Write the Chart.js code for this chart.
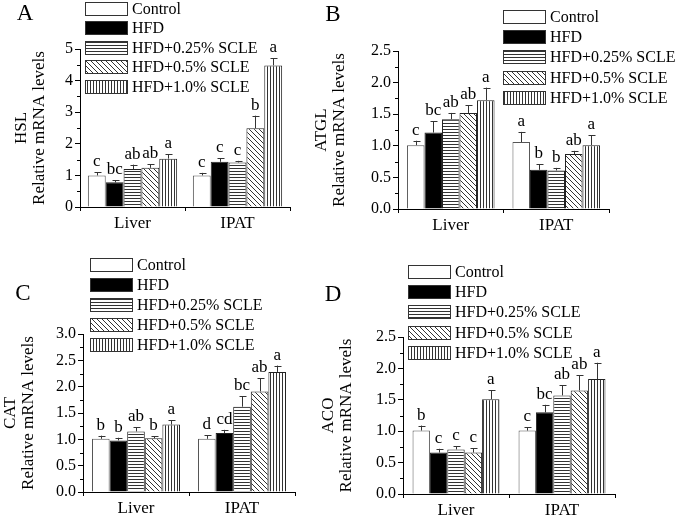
<!DOCTYPE html>
<html lang="en">
<head>
    <meta charset="UTF-8">
    <title>Relative mRNA levels</title>
    <script src="https://cdn.jsdelivr.net/npm/chart.js"></script>
    <style>
        body { margin: 0; background: #fff; }
        #wrap { position: relative; width: 685px; height: 515px; }
        .panel { position: absolute; }
    </style>
</head>
<body>
<div id="wrap">
    <div class="panel" style="left:0;top:0;"><canvas id="chartA" width="310" height="257"></canvas></div>
    <div class="panel" style="left:300px;top:0;"><canvas id="chartB" width="385" height="257"></canvas></div>
    <div class="panel" style="left:0;top:257px;"><canvas id="chartC" width="310" height="258"></canvas></div>
    <div class="panel" style="left:300px;top:257px;"><canvas id="chartD" width="385" height="258"></canvas></div>
</div>

<script>
    const groups = ['Liver', 'IPAT'];
    const seriesNames = ['Control', 'HFD', 'HFD+0.25% SCLE', 'HFD+0.5% SCLE', 'HFD+1.0% SCLE'];

    // A: HSL
    const hslLiver = [1.00, 0.78, 1.20, 1.24, 1.53];
    const hslLiverErr = [0.10, 0.06, 0.14, 0.12, 0.14];
    const hslIpat = [1.00, 1.43, 1.41, 2.49, 4.48];
    const hslIpatErr = [0.08, 0.11, 0.05, 0.40, 0.23];
    const hslLiverSig = ['c', 'bc', 'ab', 'ab', 'a'];
    const hslIpatSig = ['c', 'c', 'c', 'b', 'a'];

    // B: ATGL
    const atglLiver = [1.01, 1.21, 1.42, 1.52, 1.72];
    const atglLiverErr = [0.07, 0.18, 0.10, 0.12, 0.20];
    const atglIpat = [1.06, 0.62, 0.61, 0.87, 1.01];
    const atglIpatErr = [0.16, 0.09, 0.04, 0.05, 0.16];
    const atglLiverSig = ['c', 'bc', 'ab', 'ab', 'a'];
    const atglIpatSig = ['a', 'b', 'b', 'ab', 'a'];

    // C: CAT
    const catLiver = [1.01, 0.98, 1.15, 1.02, 1.28];
    const catLiverErr = [0.06, 0.05, 0.08, 0.04, 0.08];
    const catIpat = [1.01, 1.12, 1.62, 1.91, 2.28];
    const catIpatErr = [0.07, 0.06, 0.20, 0.25, 0.12];
    const catLiverSig = ['b', 'b', 'ab', 'b', 'a'];
    const catIpatSig = ['d', 'cd', 'bc', 'ab', 'a'];

    // D: ACO
    const acoLiver = [1.01, 0.66, 0.71, 0.66, 1.51];
    const acoLiverErr = [0.08, 0.06, 0.05, 0.07, 0.14];
    const acoIpat = [1.01, 1.30, 1.57, 1.65, 1.83];
    const acoIpatErr = [0.05, 0.12, 0.16, 0.24, 0.26];
    const acoLiverSig = ['b', 'c', 'c', 'c', 'a'];
    const acoIpatSig = ['c', 'bc', 'ab', 'ab', 'a'];

    const SERIF = "'Liberation Serif', 'Times New Roman', serif";

    // fill patterns for the five groups
    function makeTile(w, h, draw) {
        const c = document.createElement('canvas');
        c.width = w; c.height = h;
        const g = c.getContext('2d');
        g.fillStyle = '#fff';
        g.fillRect(0, 0, w, h);
        g.strokeStyle = '#333';
        g.lineWidth = 1;
        draw(g);
        return document.createElement('canvas').getContext('2d').createPattern(c, 'repeat');
    }
    const fills = [
        '#ffffff',
        '#000000',
        makeTile(3, 3, g => { g.beginPath(); g.moveTo(0, 0.5); g.lineTo(3, 0.5); g.stroke(); }),
        makeTile(5, 5, g => {
            g.beginPath();
            g.moveTo(-1, -1); g.lineTo(6, 6);
            g.moveTo(-1, 4); g.lineTo(2, 7);
            g.moveTo(4, -1); g.lineTo(7, 2);
            g.stroke();
        }),
        makeTile(3, 3, g => { g.beginPath(); g.moveTo(0.5, 0); g.lineTo(0.5, 3); g.stroke(); })
    ];

    // error bars, letters, legend, panel letter, minor ticks
    const extrasPlugin = {
        id: 'extras',
        afterDatasetsDraw(chart, args, opts) {
            const ctx = chart.ctx;
            const y = chart.scales.y;
            ctx.save();
            ctx.strokeStyle = '#333';
            ctx.lineWidth = 1;
            ctx.fillStyle = '#000';
            ctx.font = '17px ' + SERIF;
            ctx.textAlign = 'center';
            ctx.textBaseline = 'bottom';
            chart.data.datasets.forEach((ds, i) => {
                const meta = chart.getDatasetMeta(i);
                meta.data.forEach((bar, j) => {
                    const top = y.getPixelForValue(ds.data[j] + ds.errors[j]);
                    const x = Math.round(bar.x) + 0.5;
                    ctx.beginPath();
                    ctx.moveTo(x, bar.y);
                    ctx.lineTo(x, top);
                    ctx.moveTo(x - 3, Math.round(top) + 0.5);
                    ctx.lineTo(x + 4, Math.round(top) + 0.5);
                    ctx.stroke();
                    ctx.fillText(ds.sig[j], bar.x, top - 2);
                });
            });
            ctx.restore();
        },
        afterDraw(chart, args, opts) {
            const ctx = chart.ctx;
            const y = chart.scales.y;
            const area = chart.chartArea;
            ctx.save();
            // minor ticks
            ctx.strokeStyle = '#000';
            ctx.lineWidth = 1;
            const step = y.options.ticks.stepSize;
            ctx.beginPath();
            for (let v = step / 2; v < y.max; v += step) {
                const py = Math.round(y.getPixelForValue(v)) + 0.5;
                ctx.moveTo(area.left - 3, py);
                ctx.lineTo(area.left, py);
            }
            ctx.stroke();

            // panel letter
            ctx.fillStyle = '#000';
            ctx.font = '23px ' + SERIF;
            ctx.textAlign = 'center';
            ctx.textBaseline = 'middle';
            ctx.fillText(opts.letter, opts.letterX, opts.letterY);

            // legend
            ctx.font = '16px ' + SERIF;
            ctx.textAlign = 'left';
            chart.data.datasets.forEach((ds, i) => {
                const bx = opts.legendX + 0.5;
                const by = Math.round(opts.legendY + i * opts.legendPitch) + 0.5;
                ctx.fillStyle = ds.backgroundColor;
                ctx.fillRect(bx, by, 42, 13);
                ctx.strokeStyle = '#333';
                ctx.strokeRect(bx, by, 42, 13);
                ctx.fillStyle = '#000';
                ctx.fillText(ds.label, opts.legendX + 47, by + 7);
            });
            ctx.restore();
        }
    };

    function buildChart(id, p) {
        const datasets = seriesNames.map((name, i) => ({
            label: name,
            data: [p.liver[i], p.ipat[i]],
            errors: [p.liverErr[i], p.ipatErr[i]],
            sig: [p.liverSig[i], p.ipatSig[i]],
            backgroundColor: fills[i],
            borderColor: i === 0 ? '#555' : '#222',
            borderWidth: 1,
            categoryPercentage: p.catPct,
            barPercentage: 1.0
        }));

        return new Chart(document.getElementById(id), {
            type: 'bar',
            data: { labels: groups, datasets: datasets },
            plugins: [extrasPlugin],
            options: {
                responsive: false,
                animation: false,
                layout: { padding: { left: 0, right: p.padRight, top: p.padTop, bottom: 0 } },
                plugins: {
                    legend: { display: false },
                    tooltip: { enabled: false },
                    extras: {
                        letter: p.letter, letterX: p.letterX, letterY: p.letterY,
                        legendX: p.legendX, legendY: p.legendY, legendPitch: p.legendPitch
                    }
                },
                scales: {
                    x: {
                        afterFit: s => { s.height = p.xHeight; },
                        grid: { offset: true, drawOnChartArea: false, drawTicks: true, tickLength: 4, color: '#000' },
                        border: { display: true, color: '#000', width: 1 },
                        ticks: { color: '#000', font: { family: SERIF, size: 17 }, padding: 2 }
                    },
                    y: {
                        min: 0,
                        max: p.yMax,
                        afterFit: s => { s.width = p.yWidth; },
                        grid: { drawOnChartArea: false, drawTicks: true, tickLength: 5, color: '#000' },
                        border: { display: true, color: '#000', width: 1 },
                        ticks: {
                            stepSize: p.yStep,
                            color: '#000',
                            padding: 2,
                            font: { family: SERIF, size: 16 },
                            callback: v => p.yStep < 1 ? v.toFixed(1) : String(v)
                        },
                        title: {
                            display: true,
                            text: [p.gene, 'Relative mRNA levels'],
                            color: '#000',
                            font: { family: SERIF, size: 17, lineHeight: 1.05 },
                            padding: { top: p.titlePad, bottom: 0 }
                        }
                    }
                }
            }
        });
    }

    buildChart('chartA', {
        gene: 'HSL', letter: 'A', letterX: 25, letterY: 14,
        liver: hslLiver, liverErr: hslLiverErr, liverSig: hslLiverSig,
        ipat: hslIpat, ipatErr: hslIpatErr, ipatSig: hslIpatSig,
        yMax: 5, yStep: 1, catPct: 0.85,
        yWidth: 80, xHeight: 50, padTop: 49, padRight: 20, titlePad: 13,
        legendX: 85, legendY: 2, legendPitch: 19.4
    });

    buildChart('chartB', {
        gene: 'ATGL', letter: 'B', letterX: 33, letterY: 15,
        liver: atglLiver, liverErr: atglLiverErr, liverSig: atglLiverSig,
        ipat: atglIpat, ipatErr: atglIpatErr, ipatSig: atglIpatSig,
        yMax: 2.5, yStep: 0.5, catPct: 0.83,
        yWidth: 98, xHeight: 48, padTop: 51, padRight: 76, titlePad: 13,
        legendX: 203, legendY: 10, legendPitch: 20.2
    });

    buildChart('chartC', {
        gene: 'CAT', letter: 'C', letterX: 23, letterY: 37,
        liver: catLiver, liverErr: catLiverErr, liverSig: catLiverSig,
        ipat: catIpat, ipatErr: catIpatErr, ipatSig: catIpatSig,
        yMax: 3.0, yStep: 0.5, catPct: 0.83,
        yWidth: 83, xHeight: 23, padTop: 77, padRight: 15, titlePad: 2,
        legendX: 90, legendY: 1, legendPitch: 20
    });

    buildChart('chartD', {
        gene: 'ACO', letter: 'D', letterX: 33, letterY: 38,
        liver: acoLiver, liverErr: acoLiverErr, liverSig: acoLiverSig,
        ipat: acoIpat, ipatErr: acoIpatErr, ipatSig: acoIpatSig,
        yMax: 2.5, yStep: 0.5, catPct: 0.82,
        yWidth: 103, xHeight: 21, padTop: 80, padRight: 70, titlePad: 20,
        legendX: 108, legendY: 8, legendPitch: 20.2
    });
</script>
</body>
</html>
